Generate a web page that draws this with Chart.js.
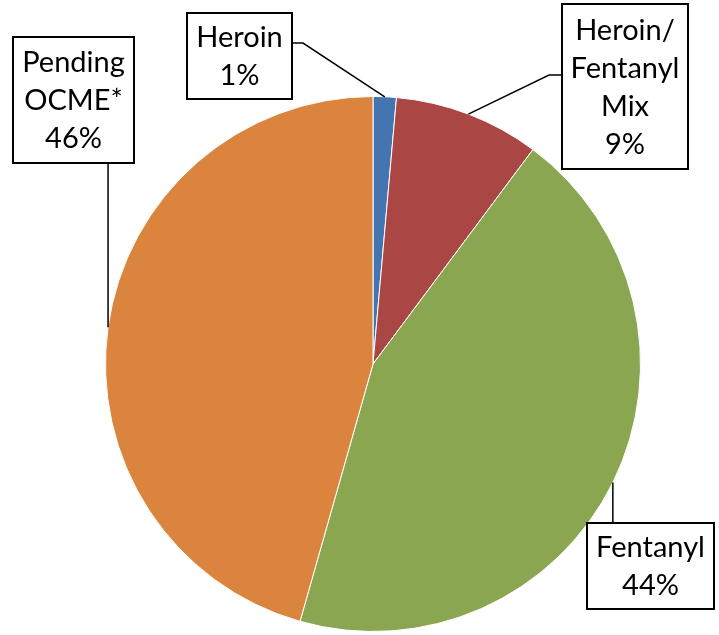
<!DOCTYPE html>
<html>
<head>
<meta charset="utf-8">
<script src="https://cdn.jsdelivr.net/npm/chart.js@4/dist/chart.umd.min.js"></script>
<style>
html,body{margin:0;padding:0;background:#fff}
#wrap{width:719px;height:635px}
</style>
</head>
<body>
<div id="wrap"><canvas id="pieChart" width="719" height="635"></canvas></div>
<script>
const categories = ["Heroin", "Heroin/Fentanyl Mix", "Fentanyl", "Pending OCME*"]
const shares = [1.4, 8.8, 44.2, 45.6]
const labelLines = [["Heroin", "1%"], ["Heroin/", "Fentanyl", "Mix", "9%"], ["Fentanyl", "44%"], ["Pending", "OCME*", "46%"]]
const sliceColors = ["#4575B0", "#AA4644", "#8BA650", "#DB843D"]

// label boxes: x, y, w, h and how the leader line leaves the box
const boxes = [
  {x:187, y:13, w:105, h:86, side:"right"},
  {x:562, y:4, w:126, h:165, side:"left"},
  {x:587, y:523, w:127, h:86, side:"top"},
  {x:13, y:37, w:121, h:126, side:"bottom"}
]

const FONT = "29px Lato"
const LINE_H = 38

const calloutPlugin = {
  id: "callouts",
  afterDraw(chart){
    const c = chart.ctx
    const arcs = chart.getDatasetMeta(0).data
    c.save()
    arcs.forEach((arc, i) => {
      const b = boxes[i]
      const mid = (arc.startAngle + arc.endAngle) / 2
      const px = arc.x + Math.cos(mid) * arc.outerRadius
      const py = arc.y + Math.sin(mid) * arc.outerRadius

      // leader line
      c.strokeStyle = "#000"
      c.lineWidth = 1.5
      c.beginPath()
      if(b.side === "right"){
        const y = b.y + 30
        c.moveTo(b.x + b.w, y)
        c.lineTo(b.x + b.w + 11, y)
        c.lineTo(px, py)
      } else if(b.side === "left"){
        const y = b.y + 71
        c.moveTo(b.x, y)
        c.lineTo(b.x - 13, y)
        c.lineTo(px, py)
      } else if(b.side === "top"){
        c.moveTo(px, b.y)
        c.lineTo(px, py)
      } else {
        c.moveTo(px, b.y + b.h)
        c.lineTo(px, py)
      }
      c.stroke()

      // box
      c.fillStyle = "#fff"
      c.fillRect(b.x, b.y, b.w, b.h)
      c.lineWidth = 2
      c.strokeRect(b.x, b.y, b.w, b.h)

      // text
      const lines = labelLines[i]
      c.fillStyle = "#000"
      c.font = FONT
      c.textAlign = "center"
      c.textBaseline = "middle"
      const top = b.y + b.h / 2 - (lines.length - 1) * LINE_H / 2
      lines.forEach((t, k) => {
        c.fillText(t, b.x + b.w / 2, top + k * LINE_H + 1)
      })
    })
    c.restore()
  }
}

const ctx = document.getElementById("pieChart").getContext("2d")

new Chart(ctx, {
  type: "pie",
  data: {
    labels: categories,
    datasets: [{
      data: shares,
      backgroundColor: sliceColors,
      borderColor: "#fff",
      borderWidth: 1,
      hoverOffset: 0,
      offset: 0
    }]
  },
  options: {
    responsive: false,
    animation: false,
    layout: {padding: {left: 105, right: 78, top: 96, bottom: 3}},
    plugins: {
      legend: {display: false},
      tooltip: {enabled: false}
    }
  },
  plugins: [calloutPlugin]
})
</script>
</body>
</html>
